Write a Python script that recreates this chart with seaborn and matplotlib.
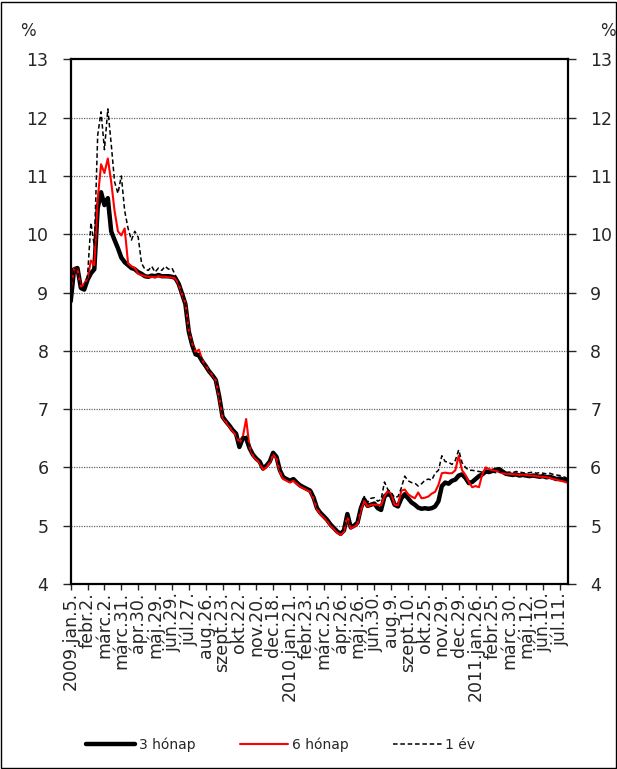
import numpy as np
import pandas as pd
import seaborn as sns
import matplotlib.pyplot as plt
from matplotlib.patches import Rectangle

# 3 hónapos hozam (kb. 4 naponként leolvasva)
three_month = [8.85, 9.4, 9.42, 9.08, 9.05, 9.22, 9.33, 9.4, 10.45, 10.72, 10.5, 10.62, 10.05, 9.9, 9.76, 9.6,
               9.52, 9.47, 9.42, 9.4, 9.35, 9.32, 9.28, 9.27,
               9.29, 9.28, 9.3, 9.28, 9.28, 9.28, 9.27, 9.25,
               9.15, 8.98, 8.8, 8.33, 8.1, 7.94, 7.92, 7.82, 7.74, 7.65, 7.58, 7.5, 7.22, 6.87, 6.79, 6.72,
               6.64, 6.58, 6.35, 6.5, 6.5, 6.33,
               6.22, 6.15, 6.1, 5.98, 6.03, 6.1, 6.25, 6.18, 5.95, 5.83, 5.8, 5.77, 5.8, 5.74, 5.69, 5.66,
               5.63, 5.6, 5.48, 5.3, 5.22, 5.16, 5.1, 5.02, 4.96, 4.9, 4.86, 4.92, 5.2, 4.97, 5.0, 5.05,
               5.3, 5.45, 5.34,
               5.36, 5.38, 5.3, 5.27, 5.5, 5.55, 5.51, 5.36, 5.33, 5.47, 5.54, 5.47, 5.4, 5.36, 5.31, 5.29,
               5.3, 5.29, 5.3, 5.33, 5.42, 5.68, 5.74, 5.72, 5.77, 5.79, 5.86, 5.88, 5.82, 5.73,
               5.75, 5.8, 5.85, 5.88, 5.93, 5.92, 5.94, 5.96, 5.97, 5.93, 5.89, 5.88, 5.87, 5.88, 5.86, 5.87,
               5.86, 5.85, 5.86, 5.85, 5.84, 5.85, 5.83, 5.84, 5.82, 5.8, 5.81, 5.79, 5.78]

# 6 hónapos hozam
six_month = [9.05, 9.42, 9.4, 9.1, 9.15, 9.25, 9.55, 9.47, 10.6, 11.2, 11.05, 11.3, 10.9, 10.4, 10.05, 9.98,
             10.1, 9.5, 9.45, 9.42, 9.32, 9.3, 9.28, 9.27,
             9.27, 9.26, 9.28, 9.27, 9.27, 9.26, 9.26, 9.24,
             9.14, 8.97, 8.82, 8.35, 8.12, 7.98, 8.02, 7.84, 7.75, 7.66, 7.58, 7.5, 7.2, 6.86, 6.78, 6.7,
             6.62, 6.55, 6.42, 6.52, 6.83, 6.35,
             6.2, 6.13, 6.08, 5.96, 6.0, 6.08, 6.22, 6.15, 5.92, 5.8, 5.77, 5.74, 5.77, 5.72, 5.67, 5.64,
             5.61, 5.58, 5.46, 5.28, 5.2, 5.14, 5.08, 5.0, 4.94, 4.88, 4.84, 4.9, 5.18, 4.95, 4.98, 5.03,
             5.27, 5.42, 5.33,
             5.36, 5.36, 5.36, 5.35, 5.5, 5.6, 5.55, 5.36, 5.35, 5.6, 5.62, 5.54, 5.5, 5.47, 5.57, 5.47,
             5.48, 5.5, 5.55, 5.58, 5.7, 5.9, 5.91, 5.9, 5.9, 5.95, 6.2, 5.95, 5.87, 5.75,
             5.66, 5.68, 5.66, 5.88, 6.0, 5.97, 5.95, 5.94, 5.92, 5.9, 5.89, 5.89, 5.88, 5.88, 5.87, 5.88,
             5.87, 5.86, 5.86, 5.85, 5.84, 5.84, 5.83, 5.82, 5.8, 5.79, 5.77, 5.76, 5.74]

# 1 éves hozam
one_year = [9.05, 9.42, 9.4, 9.05, 9.08, 9.3, 10.2, 9.8, 11.7, 12.1, 11.45, 12.15, 11.55, 10.9, 10.7, 11.0,
            10.4, 10.1, 9.9, 10.05, 9.95, 9.5, 9.4, 9.38,
            9.45, 9.35, 9.42, 9.38, 9.45, 9.4, 9.42, 9.3,
            9.17, 9.0, 8.82, 8.35, 8.12, 7.96, 7.95, 7.84, 7.76, 7.67, 7.6, 7.52, 7.24, 6.89, 6.81, 6.74,
            6.66, 6.6, 6.4, 6.52, 6.55, 6.36,
            6.24, 6.17, 6.12, 6.0, 6.05, 6.12, 6.27, 6.2, 5.97, 5.85, 5.82, 5.79, 5.82, 5.76, 5.71, 5.68,
            5.65, 5.62, 5.5, 5.32, 5.24, 5.18, 5.12, 5.04, 4.98, 4.92, 4.88, 4.94, 5.22, 4.99, 5.02, 5.08,
            5.35, 5.5, 5.4,
            5.47, 5.48, 5.42, 5.45, 5.75, 5.62, 5.57, 5.48, 5.5, 5.65, 5.85, 5.77, 5.74, 5.73, 5.68, 5.72,
            5.78, 5.8, 5.78, 5.9, 5.95, 6.2, 6.1, 6.09, 6.05, 6.12, 6.3, 6.08, 6.0, 5.95,
            5.95, 5.94, 5.93, 5.92, 5.91, 5.91, 5.92, 5.91, 5.92, 5.93, 5.91, 5.92, 5.91, 5.93, 5.92, 5.91,
            5.9, 5.91, 5.92, 5.9, 5.91, 5.9, 5.89, 5.9, 5.88, 5.87, 5.86, 5.84, 5.82]

# dátum címkék az x tengelyen
date_labels = ["2009.jan.5.", "febr.2.", "márc.2.", "márc.31.", "ápr.30.", "máj.29.", "jún.29.", "júl.27.",
               "aug.26.", "szept.23.", "okt.22.", "nov.20.", "dec.18.", "2010.jan.21.", "febr.23.",
               "márc.25.", "ápr.26.", "máj.26.", "jún.30.", "aug.9.", "szept.10.", "okt.25.", "nov.29.",
               "dec.29.", "2011.jan.26.", "febr.25.", "márc.30.", "máj.12.", "jún.10.", "júl.11."]
y_ticks = [4, 5, 6, 7, 8, 9, 10, 11, 12, 13]

sns.set_style("white")
plt.rcParams['font.family'] = ['DejaVu Sans']

fig = plt.figure(figsize=(6.17, 7.69), dpi=100)
ax = fig.add_axes([0.1146, 0.2406, 0.806, 0.6822])

# vonalak
sns.lineplot(x=np.arange(len(three_month)), y=three_month, ax=ax, color='black', linewidth=3.2,
             label='3 hónap')
sns.lineplot(x=np.arange(len(six_month)), y=six_month, ax=ax, color='#ff0000', linewidth=1.5,
             label='6 hónap')
sns.lineplot(x=np.arange(len(one_year)), y=one_year, ax=ax, color='black', linewidth=1.1,
             linestyle=(0, (3, 1.8)), label='1 év')

ax.set_ylim(4, 13)
ax.set_xlim(0, 147.4)
ax.set_yticks(y_ticks)
ax.set_yticklabels([str(t) for t in y_ticks])
ax.set_xticks(np.arange(len(date_labels)) * 5)
ax.set_xticklabels(date_labels, rotation=90, fontsize=12.5, va='top', ha='center')

# rács
for t in y_ticks[1:-1]:
    ax.axhline(t, color='#666666', linewidth=0.9, linestyle=(0, (1, 1)), zorder=0)

for side in ['left', 'right', 'top', 'bottom']:
    ax.spines[side].set_visible(True)
    ax.spines[side].set_color('black')
    ax.spines[side].set_linewidth(1.6)

ax.tick_params(axis='y', which='both', left=True, right=True, labelleft=True, labelright=True,
               direction='out', length=6, width=1, labelsize=12.5, pad=10)
ax.tick_params(axis='x', bottom=True, direction='out', length=4, width=1, pad=2)
ax.set_xlabel("")
ax.set_ylabel("")

fig.text(0.045, 0.96, "%", fontsize=12, ha='center', va='center')
fig.text(0.985, 0.96, "%", fontsize=12, ha='center', va='center')

# jelmagyarázat a grafikon alatt
ax.get_legend().remove()
handles, labels = ax.get_legend_handles_labels()
fig.legend(handles, labels, loc='center', bbox_to_anchor=(0.455, 0.032), ncol=3, frameon=False,
           fontsize=10, handlelength=3.5, columnspacing=3.2, handletextpad=0.25)

# keret
fig.patches.append(Rectangle((0.001, 0.001), 0.997, 0.997, transform=fig.transFigure,
                             fill=False, edgecolor='black', linewidth=1))

plt.savefig('out.png', dpi=100)
